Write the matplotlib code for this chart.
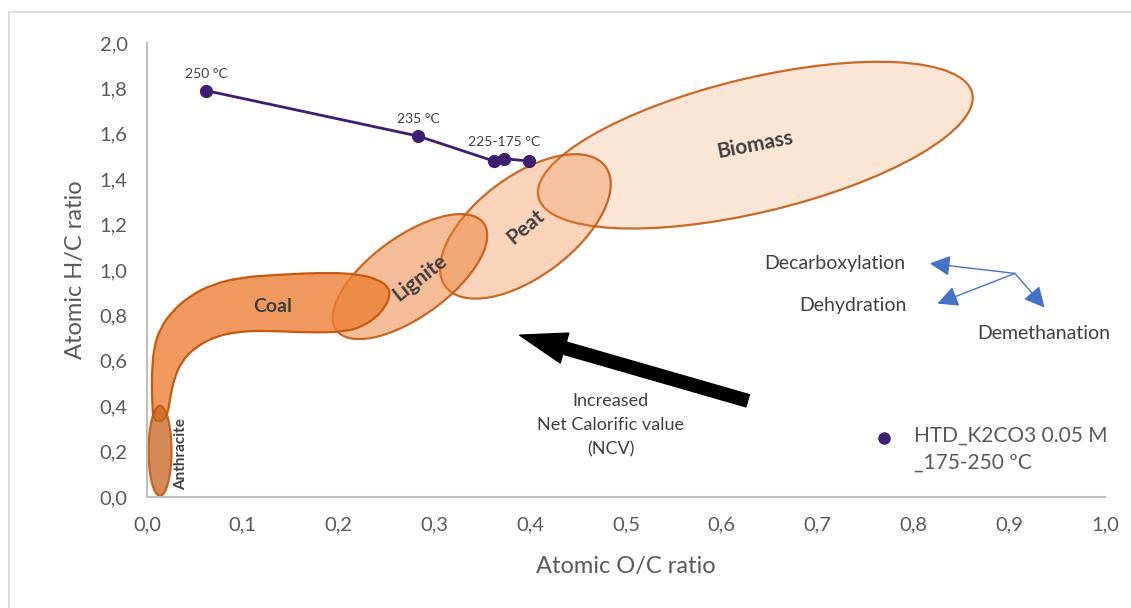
import matplotlib
matplotlib.use("Agg")
import matplotlib.pyplot as plt
from matplotlib.patches import Ellipse, PathPatch
from matplotlib.path import Path
from matplotlib.lines import Line2D
from matplotlib.transforms import Affine2D, ScaledTranslation

plt.rcParams['font.family'] = ['Lato', 'DejaVu Sans']

# HTD series (atomic O/C, atomic H/C)
series_label = "HTD_K2CO3 0.05 M\n_175-250 ºC"
series_oc = [0.062, 0.283, 0.362, 0.373, 0.399]
series_hc = [1.79, 1.59, 1.48, 1.49, 1.48]
point_labels = ["250 °C", "235 °C", "225-175 °C"]
label_at = [0, 1, 3]

# fuel regions: centre of each ellipse in (O/C, H/C)
region_names = ["Biomass", "Peat", "Lignite", "Anthracite"]
region_oc = [0.635, 0.395, 0.2745, 0.0136]
region_hc = [1.55, 1.192, 0.971, 0.203]

# coal band outline (O/C, H/C)
coal_oc = [0.0063, 0.0052, 0.0052, 0.0073, 0.0136, 0.0261, 0.0438, 0.0678,
           0.0971, 0.1388, 0.1910, 0.2223, 0.2411, 0.2516, 0.2537, 0.2495,
           0.2390, 0.2244, 0.2067, 0.1701, 0.1232, 0.0939, 0.0710, 0.0511,
           0.0365, 0.0282, 0.0240, 0.0219, 0.0177, 0.0115]
coal_hc = [0.344, 0.446, 0.556, 0.658, 0.742, 0.817, 0.883, 0.936,
           0.967, 0.980, 0.989, 0.980, 0.958, 0.927, 0.892, 0.843,
           0.790, 0.751, 0.728, 0.724, 0.733, 0.728, 0.706, 0.662,
           0.600, 0.521, 0.433, 0.371, 0.340, 0.331]

# reaction pathway arrows
path_origin = (0.906, 0.985)
path_names = ["Decarboxylation", "Dehydration", "Demethanation"]
path_oc = [0.817, 0.825, 0.937]
path_hc = [1.029, 0.852, 0.834]

ncv_tail = (0.627, 0.424)
ncv_head = (0.389, 0.713)

PURPLE = '#3E1E70'
ORANGE = '#ED7D31'
EDGE = '#C55A11'
TXT = '#404040'
TICK = '#595959'


def add_region(ax, cx, cy, w, h, angle, alpha, color=ORANGE):
    # ellipse sized in pixels, centred on a data point
    tr = Affine2D() + ScaledTranslation(cx, cy, ax.transData)
    ax.add_patch(Ellipse((0, 0), w, h, angle=angle, transform=tr,
                         facecolor=color, alpha=alpha, edgecolor='none'))
    ax.add_patch(Ellipse((0, 0), w, h, angle=angle, transform=tr,
                         facecolor='none', edgecolor=EDGE, lw=1.6, alpha=0.9))


def smooth_closed_path(xs, ys):
    # quadratic b-spline through the outline, points used as control points
    n = len(xs)
    mid = lambda i: ((xs[i % n] + xs[(i + 1) % n]) / 2,
                     (ys[i % n] + ys[(i + 1) % n]) / 2)
    verts = [mid(0)]
    codes = [Path.MOVETO]
    for i in range(1, n + 1):
        verts += [(xs[i % n], ys[i % n]), mid(i)]
        codes += [Path.CURVE3, Path.CURVE3]
    return Path(verts, codes)


fig = plt.figure(figsize=(11.31, 6.08), dpi=100)
ax = fig.add_axes([147 / 1131, 1 - 497 / 608, 958 / 1131, 454 / 608])
ax.set_xlim(0, 1.0)
ax.set_ylim(0, 2.0)

# frame of the chart area (only top and left visible)
fig.add_artist(Line2D([9 / 1131, 1], [1 - 12 / 608] * 2, color='#D9D9D9', lw=1.2))
fig.add_artist(Line2D([9 / 1131] * 2, [0, 1 - 12 / 608], color='#D9D9D9', lw=1.2))

sizes = {"Biomass": (446, 134, 13.5, 0.2),
         "Peat": (200, 100, 37, 0.33),
         "Lignite": (182, 80, 36, 0.5)}
for name, cx, cy in zip(region_names[:3], region_oc, region_hc):
    w, h, ang, a = sizes[name]
    add_region(ax, cx, cy, w, h, ang, a)

coal_path = smooth_closed_path(coal_oc, coal_hc)
ax.add_patch(PathPatch(coal_path, facecolor=ORANGE, alpha=0.78, edgecolor='none'))
ax.add_patch(PathPatch(coal_path, facecolor='none', edgecolor=EDGE, lw=1.6))
add_region(ax, region_oc[3], region_hc[3], 23, 90, 0, 0.75, color='#C8651F')

# region labels
ax.text(0.635, 1.55, "Biomass", rotation=11, ha='center', va='center',
        fontsize=15, fontweight='bold', color=TXT)
ax.text(0.395, 1.19, "Peat", rotation=40, ha='center', va='center',
        fontsize=15, fontweight='bold', color=TXT)
ax.text(0.285, 0.965, "Lignite", rotation=38, ha='center', va='center',
        fontsize=15, fontweight='bold', color=TXT)
ax.text(0.131, 0.84, "Coal", ha='center', va='center',
        fontsize=14, fontweight='bold', color=TXT)
ax.text(0.036, 0.19, "Anthracite", rotation=90, ha='center', va='center',
        fontsize=11, fontweight='bold', color=TXT)

# HTD series
ax.plot(series_oc, series_hc, color=PURPLE, lw=2, marker='o', ms=8.5,
        zorder=5)
for txt, i in zip(point_labels, label_at):
    ax.annotate(txt, (series_oc[i], series_hc[i]), xytext=(0, 8),
                textcoords='offset points', ha='center', va='bottom',
                fontsize=10, color=TXT)

# increased NCV arrow
ax.annotate('', xy=ncv_head, xytext=ncv_tail,
            arrowprops=dict(arrowstyle='simple,head_length=2.4,head_width=1.6,tail_width=0.65',
                            color='black', shrinkA=0, shrinkB=0, mutation_scale=14))
ax.text(0.484, 0.317, "Increased\nNet Calorific value\n(NCV)", ha='center',
        va='center', fontsize=13, color=TXT, linespacing=1.6)

# reaction pathways
for name, x, y in zip(path_names, path_oc, path_hc):
    ax.annotate('', xy=(x, y), xytext=path_origin,
                arrowprops=dict(arrowstyle='-|>,head_length=0.7,head_width=0.35',
                                color='#4472C4', lw=1, shrinkA=0, shrinkB=0,
                                mutation_scale=18))
ax.text(0.792, 1.03, path_names[0], ha='right', va='center', fontsize=14,
        color=TXT)
ax.text(0.793, 0.842, path_names[1], ha='right', va='center', fontsize=14,
        color=TXT)
ax.text(0.867, 0.72, path_names[2], ha='left', va='center', fontsize=14,
        color=TXT)

# legend entry
ax.plot([0.769], [0.13], 'o', color=PURPLE, ms=8, transform=ax.transAxes,
        clip_on=False)
ax.text(0.801, 0.157, series_label, transform=ax.transAxes, ha='left',
        va='top', fontsize=15, color=TICK, linespacing=1.45)

# axes styling
ax.set_xticks([i / 10 for i in range(11)])
ax.set_yticks([i / 5 for i in range(11)])
ax.set_xticklabels([f"{i / 10:.1f}".replace('.', ',') for i in range(11)])
ax.set_yticklabels([f"{i / 5:.1f}".replace('.', ',') for i in range(11)])
ax.tick_params(length=0, labelsize=14.5, labelcolor=TICK)
ax.tick_params(axis='x', pad=14)
ax.tick_params(axis='y', pad=14)
for s in ['top', 'right']:
    ax.spines[s].set_visible(False)
for s in ['left', 'bottom']:
    ax.spines[s].set_color('#BFBFBF')
    ax.spines[s].set_linewidth(1.5)
ax.set_xlabel("Atomic O/C ratio", fontsize=17, color=TICK, labelpad=16)
ax.set_ylabel("Atomic H/C ratio", fontsize=17, color=TICK, labelpad=10)

fig.savefig("out.png", dpi=100)
